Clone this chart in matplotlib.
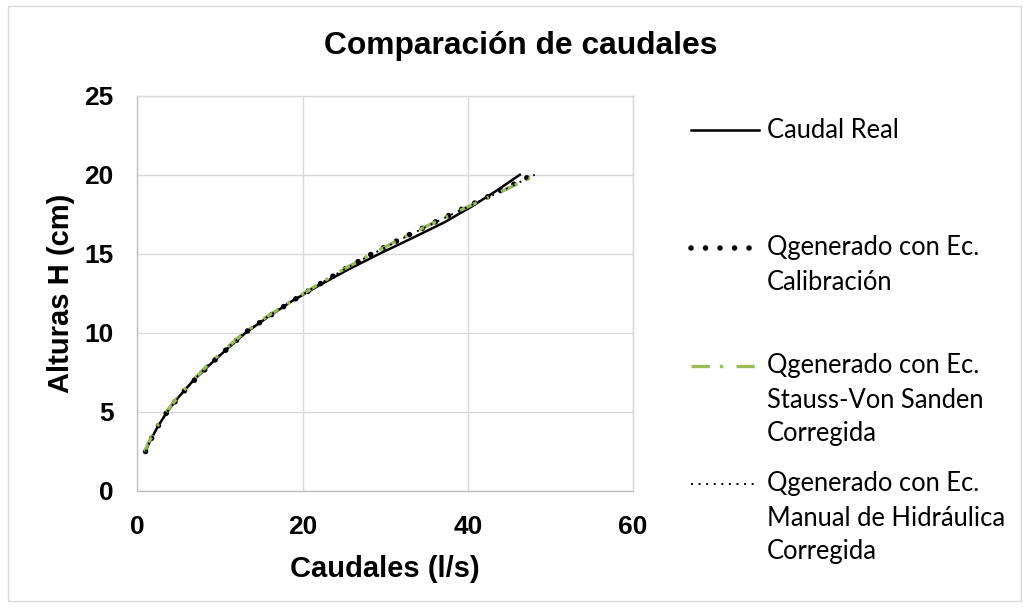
import matplotlib
matplotlib.use("Agg")
import matplotlib.pyplot as plt
from matplotlib.lines import Line2D
from matplotlib.patches import Rectangle

# Alturas medidas (cm) y caudales (l/s) de cada serie
altura = [2.5, 3, 4, 5, 6, 7, 8, 9, 10, 11, 12, 13, 14, 15, 16, 17, 18, 19, 20]
q_real = [1.0, 1.4, 2.4, 3.6, 5.1, 6.8, 8.8, 10.9, 13.1, 15.8, 18.7, 22.0,
          25.5, 29.3, 33.3, 37.2, 40.5, 43.5, 46.3]
q_calibracion = [1.0, 1.4, 2.4, 3.6, 5.1, 6.9, 8.8, 10.9, 13.0, 15.8, 18.7,
                 21.8, 25.0, 28.4, 32.1, 36.0, 40.0, 44.0, 47.9]
q_stauss = [0.9, 1.3, 2.3, 3.5, 5.0, 6.7, 8.6, 10.7, 12.9, 15.6, 18.6, 21.7,
            24.9, 28.4, 32.1, 36.0, 40.1, 44.3, 48.4]
q_manual = [1.0, 1.4, 2.4, 3.6, 5.1, 6.8, 8.7, 10.8, 13.0, 15.7, 18.7, 21.8,
            25.0, 28.5, 32.2, 36.1, 40.1, 44.2, 48.1]

labels = [
    "Caudal Real",
    "Qgenerado con Ec.\nCalibración",
    "Qgenerado con Ec.\nStauss-Von Sanden\nCorregida",
    "Qgenerado con Ec.\nManual de Hidráulica\nCorregida",
]

VERDE = "#9BBB59"
GRID = "#D9D9D9"
BOLD = dict(family="Liberation Sans", weight="bold")

styles = [
    dict(color="black", lw=1.8, ls="-"),
    dict(color="black", lw=4.0, ls=(0, (0.01, 2.6)), dash_capstyle="round"),
    dict(color=VERDE, lw=2.4, ls=(0, (5.5, 3, 1, 4)), dash_capstyle="butt"),
    dict(color="black", lw=1.4, ls=(0, (1, 2.9)), dash_capstyle="butt"),
]

W, H = 1023, 609
fig = plt.figure(figsize=(W / 100, H / 100), dpi=100)
fig.patch.set_facecolor("white")
fig.add_artist(Rectangle((8 / W, 1 - 601 / H), 1013 / W, 595 / H,
                         transform=fig.transFigure, fill=False,
                         edgecolor=GRID, lw=1))

ax = fig.add_axes([137.3 / W, 1 - 491 / H, (633 - 137.3) / W, (491 - 95.7) / H])
for q, st in zip([q_real, q_calibracion, q_stauss, q_manual], styles):
    ax.plot(q, altura, **st)

ax.set_xlim(0, 60)
ax.set_ylim(0, 25)
ax.set_xticks([0, 20, 40, 60])
ax.set_yticks([0, 5, 10, 15, 20, 25])
ax.grid(True, color=GRID, lw=1)
ax.set_axisbelow(True)
for side, sp in ax.spines.items():
    sp.set_color("#BFBFBF" if side in ("left", "bottom") else GRID)
    sp.set_linewidth(1)
ax.tick_params(length=0, labelsize=19, pad=17)
for t in ax.get_xticklabels() + ax.get_yticklabels():
    t.set_fontfamily("Liberation Sans")
    t.set_fontweight("bold")
ax.set_xlabel("Caudales (l/s)", fontsize=21, labelpad=12, **BOLD)
ax.set_ylabel("Alturas H (cm)", fontsize=21, labelpad=7, **BOLD)

fig.text(521 / W, 1 - 46 / H, "Comparación de caudales", ha="center",
         va="center", fontsize=22.9, **BOLD)

# Leyenda dibujada a mano: muestra alineada con la primera línea del texto
first_line_y = [130, 248, 366, 484]
line_step = 34
for lab, st, y0 in zip(labels, styles, first_line_y):
    yf = 1 - y0 / H
    fig.add_artist(Line2D([691 / W, 759 / W], [yf, yf],
                          transform=fig.transFigure, **st))
    for i, txt in enumerate(lab.split("\n")):
        fig.text(767 / W, 1 - (y0 + i * line_step) / H, txt, ha="left",
                 va="center", fontsize=18.4, family="Lato")

fig.savefig("out.png", dpi=100)
